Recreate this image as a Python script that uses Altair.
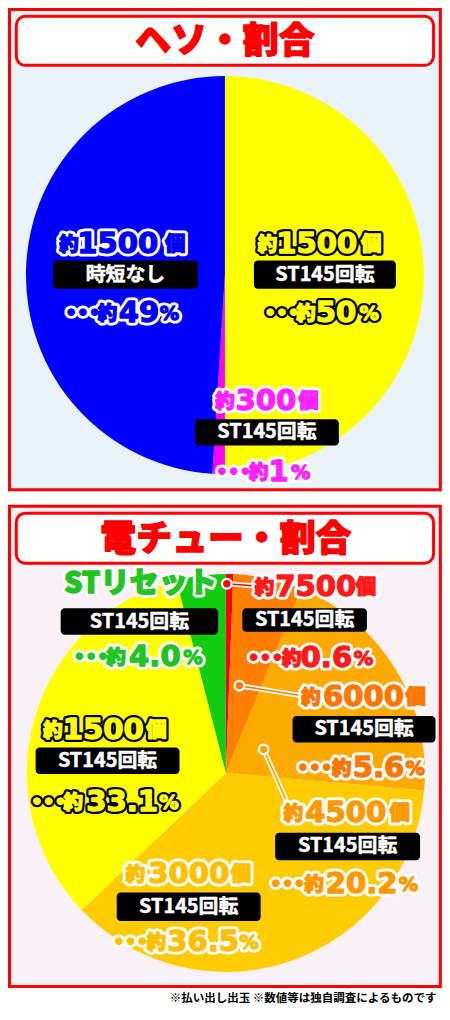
import altair as alt
import pandas as pd

# ---------------- data ----------------
TITLES = ["ヘソ・割合", "電チュー・割合"]
FOOTNOTE = "※払い出し出玉 ※数値等は独自調査によるものです"

# ヘソ (clockwise from 12 o'clock)
HESO_MODE = ["ST145回転", "ST145回転", "時短なし"]
HESO_BALLS = ["1500", "300", "1500"]
HESO_SHARE = [50, 1, 49]
HESO_SHARE_LABEL = ["50", "1", "49"]

# 電チュー (clockwise from 12 o'clock)
DEN_MODE = ["ST145回転", "ST145回転", "ST145回転", "ST145回転", "ST145回転", "ST145回転"]
DEN_BALLS = ["7500", "6000", "4500", "3000", "1500", "STリセット"]
DEN_SHARE = [0.6, 5.6, 20.2, 36.5, 33.1, 4.0]
DEN_SHARE_LABEL = ["0.6", "5.6", "20.2", "36.5", "33.1", "4.0"]

# ---------------- styles ----------------
HESO_COLORS = ["#ffff00", "#ff00ff", "#0000ff"]
HESO_TXT = [("#ffff00", "#000000"), ("#ff22ff", "#ffffff"), ("#0000ff", "#ffffff")]
DEN_COLORS = ["#ff0000", "#ff7f00", "#ffaa00", "#ffcc00", "#ffff00", "#11cc11"]
DEN_TXT = [("#ff1a1a", "#ffffff"), ("#ff7700", "#ffffff"), ("#ff9900", "#ffffff"),
           ("#ffc000", "#ffffff"), ("#ffff00", "#000000"), ("#22c422", "#ffffff")]
RED = "#ff0000"
BG = ["#eaf3fa", "#f9f1f6"]

# ---------------- layout (reference pixel space) ----------------
SX, SY, S = 0.966, 0.98, 0.97
W, H = 434, 1000


def X(x):
    return round((x - 2) * SX + 1.5, 2)


def Y(y):
    return round((y - 2) * SY + 1.5, 2)


PIE_C = [(225, 273), (226, 781)]
PIE_R = 206

# head row: (約 x, number x, 個 x, y); box: (x1, y1, x2, y2); pct row: (dots x, 約 x, number x, % x, y)
HESO_LAYOUT = [
    ((269, 320, 376.5, 241), (255, 258, 402, 287), (285, 309, 340, 374.5, 312)),
    ((225, 267.5, 311.5, 401), (194, 420, 343, 447), (235, 260, 280.5, 303.5, 474)),
    ((63.5, 114, 173.5, 241), (47, 258, 197, 287), (79, 103.5, 136, 167.5, 312)),
]
DEN_LAYOUT = [
    ((266, 319, 371, 591), (243, 613, 372, 637), (268, 294, 330, 368.5, 664)),
    ((314, 368.5, 422.5, 704), (295, 723, 443, 750), (319, 346, 384, 422, 776)),
    ((296, 350, 406, 822), (277, 842, 427, 870), (291, 317.5, 366.5, 415, 894)),
    ((132.5, 187.5, 241.5, 884), (113, 903, 262, 932), (128.5, 154, 202.5, 250, 954)),
    ((47, 99, 154, 737), (29, 755, 178, 782), (43.5, 68, 118.5, 167, 811)),
    ((137.5, 137.5, 137.5, 588), (55, 613, 218, 640), (87.5, 112.5, 152.5, 192, 663)),
]
# leader markers for the thin slices: (circle x, y, line end x, y, colour)
MARKERS = [(227, 588, 254, 590, "#ff0000"), (240, 692, 303, 702, "#ff7700"),
           (265, 757, 288, 808, "#ffa000")]

# ---------------- build tables ----------------
pieces = []  # text with outline


def add(group, text, x, y, size, fill, outline):
    pieces.append({"g": group, "text": text, "x": X(x), "y": Y(y), "size": size * S,
                   "fill": fill, "stroke": outline, "sw": 6 if outline == "#000000" else 7})


boxes = []
box_text = []


def add_label(balls, mode, share, layout, colors):
    head, box, pct = layout
    fill, outline = colors
    if balls.isdigit():
        add("cjk", "約", head[0], head[3] + 1, 20, fill, outline)
        add("num", balls, head[1], head[3], 30, fill, outline)
        add("cjk", "個", head[2], head[3] + 1, 21, fill, outline)
    else:
        add("cjk", balls, head[1], head[3], 30, fill, outline)
    boxes.append({"x": X(box[0]), "x2": X(box[2]), "y": Y(box[1]), "y2": Y(box[3])})
    box_text.append({"text": mode, "x": X((box[0] + box[2]) / 2), "y": Y((box[1] + box[3]) / 2)})
    add("num", "•••", pct[0] - 1, pct[4], 19, fill, outline)
    add("cjk", "約", pct[1], pct[4] + 1, 20, fill, outline)
    add("num", share, pct[2], pct[4], 30, fill, outline)
    add("num", "%", pct[3], pct[4] + 1, 20, fill, outline)


for i in range(3):
    add_label(HESO_BALLS[i], HESO_MODE[i], HESO_SHARE_LABEL[i], HESO_LAYOUT[i], HESO_TXT[i])
for i in range(6):
    add_label(DEN_BALLS[i], DEN_MODE[i], DEN_SHARE_LABEL[i], DEN_LAYOUT[i], DEN_TXT[i])

pieces_df = pd.DataFrame(pieces)
boxes_df = pd.DataFrame(boxes)
box_text_df = pd.DataFrame(box_text)

frames_df = pd.DataFrame({
    "x": [X(2), X(2)], "x2": [X(448), X(448)],
    "y": [Y(2), Y(509)], "y2": [Y(492), Y(999)], "fill": BG,
})
title_box_df = pd.DataFrame({
    "x": [X(9), X(9)], "x2": [X(441), X(441)],
    "y": [Y(9), Y(516)], "y2": [Y(59), Y(567)],
})
title_df = pd.DataFrame({"text": TITLES, "x": [X(225), X(226)], "y": [Y(35), Y(543)]})

mk = pd.DataFrame([{"x": X(a), "y": Y(b), "x2": X(c), "y2": Y(d), "color": col}
                   for a, b, c, d, col in MARKERS])

heso_df = pd.DataFrame({"share": HESO_SHARE, "order": list(range(3)), "color": HESO_COLORS})
den_df = pd.DataFrame({"share": DEN_SHARE, "order": list(range(6)), "color": DEN_COLORS})

NOS = dict(scale=None, axis=None)
CJK = "Noto Sans CJK JP"
NUM = "DejaVu Sans"

frames = alt.Chart(frames_df).mark_rect(stroke=RED, strokeWidth=3).encode(
    x=alt.X("x:Q", **NOS), x2="x2:Q", y=alt.Y("y:Q", **NOS), y2="y2:Q",
    fill=alt.Fill("fill:N", scale=None))
title_boxes = alt.Chart(title_box_df).mark_rect(
    stroke=RED, strokeWidth=3, fill="white", cornerRadius=9).encode(
    x=alt.X("x:Q", **NOS), x2="x2:Q", y=alt.Y("y:Q", **NOS), y2="y2:Q")
titles = alt.Chart(title_df).mark_text(
    font=CJK, fontWeight=900, fontSize=37 * S, color=RED, stroke=RED, strokeWidth=1.4,
    strokeJoin="round", baseline="middle", align="center").encode(
    x=alt.X("x:Q", **NOS), y=alt.Y("y:Q", **NOS), text="text:N")


def pie(df, c):
    return alt.Chart(df).mark_arc(radius=PIE_R * SX).encode(
        theta=alt.Theta("share:Q", stack=True),
        order=alt.Order("order:Q"),
        fill=alt.Fill("color:N", scale=None),
        x=alt.value(X(c[0])), y=alt.value(Y(c[1])))


pie1 = pie(heso_df, PIE_C[0])
pie2 = pie(den_df, PIE_C[1])

lines_w = alt.Chart(mk).mark_rule(color="white", strokeWidth=5, strokeCap="round").encode(
    x=alt.X("x:Q", **NOS), y=alt.Y("y:Q", **NOS), x2="x2:Q", y2="y2:Q")
lines_c = alt.Chart(mk).mark_rule(strokeWidth=1.6).encode(
    x=alt.X("x:Q", **NOS), y=alt.Y("y:Q", **NOS), x2="x2:Q", y2="y2:Q",
    color=alt.Color("color:N", scale=None))
dots = alt.Chart(mk).mark_point(filled=True, size=95, stroke="white", strokeWidth=2.2, opacity=1).encode(
    x=alt.X("x:Q", **NOS), y=alt.Y("y:Q", **NOS), fill=alt.Fill("color:N", scale=None))

label_boxes = alt.Chart(boxes_df).mark_rect(fill="black", cornerRadius=4).encode(
    x=alt.X("x:Q", **NOS), x2="x2:Q", y=alt.Y("y:Q", **NOS), y2="y2:Q")
label_box_text = alt.Chart(box_text_df).mark_text(
    font=CJK, fontWeight="bold", fontSize=20.5 * S, color="white", stroke="white", strokeWidth=0.5,
    baseline="middle", align="center").encode(
    x=alt.X("x:Q", **NOS), y=alt.Y("y:Q", **NOS), text="text:N")


def outline_layer(group, font):
    return alt.Chart(pieces_df).transform_filter(alt.datum.g == group).mark_text(
        font=font, fontWeight=900, baseline="middle", align="center", strokeJoin="round").encode(
        x=alt.X("x:Q", **NOS), y=alt.Y("y:Q", **NOS), text="text:N",
        size=alt.Size("size:Q", scale=None, legend=None),
        fill=alt.Fill("stroke:N", scale=None),
        stroke=alt.Stroke("stroke:N", scale=None),
        strokeWidth=alt.StrokeWidth("sw:Q", scale=None, legend=None))


def fill_layer(group, font):
    return alt.Chart(pieces_df).transform_filter(alt.datum.g == group).mark_text(
        font=font, fontWeight=900, baseline="middle", align="center",
        strokeWidth=1.3, strokeJoin="round").encode(
        x=alt.X("x:Q", **NOS), y=alt.Y("y:Q", **NOS), text="text:N",
        size=alt.Size("size:Q", scale=None, legend=None),
        fill=alt.Fill("fill:N", scale=None),
        stroke=alt.Stroke("fill:N", scale=None))


footer = alt.Chart(pd.DataFrame({"text": [FOOTNOTE], "x": [X(444)], "y": [Y(1012)]})).mark_text(
    font=CJK, fontWeight="bold", fontSize=11.5, color="black", align="right", baseline="middle").encode(
    x=alt.X("x:Q", **NOS), y=alt.Y("y:Q", **NOS), text="text:N")

chart = alt.layer(
    frames, title_boxes, titles, pie1, pie2,
    lines_w, lines_c, dots,
    label_boxes, label_box_text,
    outline_layer("num", NUM), outline_layer("cjk", CJK),
    fill_layer("num", NUM), fill_layer("cjk", CJK),
    footer,
).resolve_scale(theta="independent").properties(
    width=W, height=H, padding=0, autosize=alt.AutoSizeParams(type="none"),
    background="white",
).configure_view(stroke=None)

chart.save("out.html", embed_options={"renderer": "svg", "actions": False})
